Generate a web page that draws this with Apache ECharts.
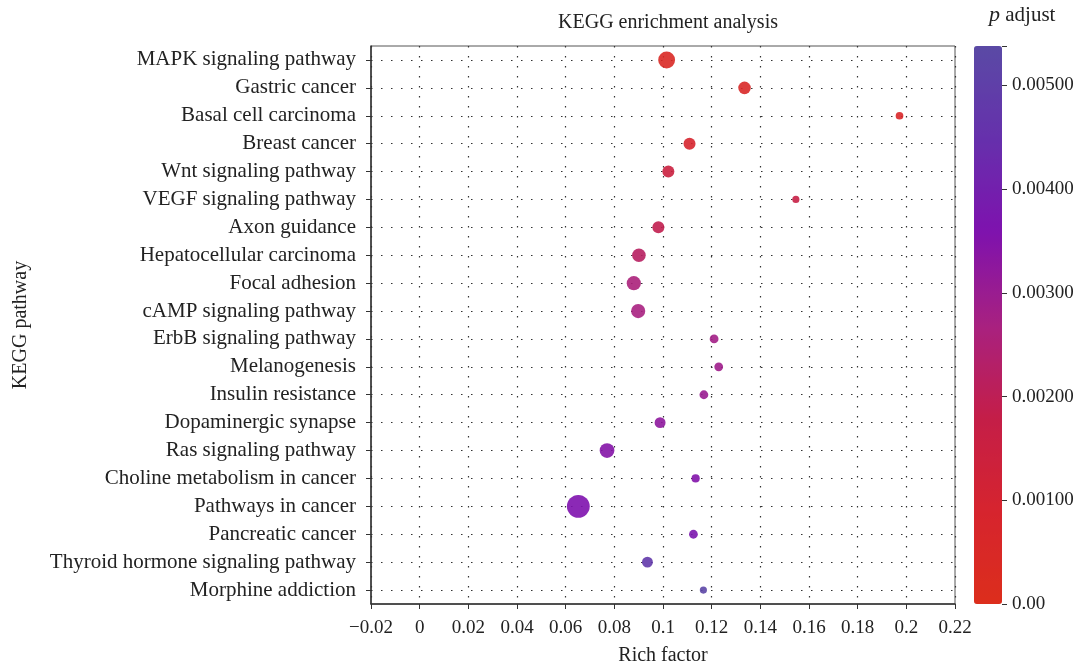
<!DOCTYPE html>
<html>
<head>
<meta charset="utf-8">
<script src="https://cdn.jsdelivr.net/npm/echarts@6/dist/echarts.min.js"></script>
<style>
  html, body { margin: 0; padding: 0; background: #fff; }
  #chart { width: 1083px; height: 665px; }
</style>
</head>
<body>
<div id="chart"></div>
<script>
const pathways = [
  "MAPK signaling pathway", "Gastric cancer", "Basal cell carcinoma", "Breast cancer",
  "Wnt signaling pathway", "VEGF signaling pathway", "Axon guidance", "Hepatocellular carcinoma",
  "Focal adhesion", "cAMP signaling pathway", "ErbB signaling pathway", "Melanogenesis",
  "Insulin resistance", "Dopaminergic synapse", "Ras signaling pathway",
  "Choline metabolism in cancer", "Pathways in cancer", "Pancreatic cancer",
  "Thyroid hormone signaling pathway", "Morphine addiction"
];
const richFactor = [
  0.1015, 0.1335, 0.1972, 0.1109, 0.1022, 0.1546, 0.0981, 0.0901, 0.0880, 0.0898,
  0.1210, 0.1229, 0.1168, 0.0988, 0.0770, 0.1134, 0.0652, 0.1125, 0.0936, 0.1166
];
const geneCount = [22, 14, 5, 13, 13, 4, 13, 16, 17, 17, 7, 7, 7, 11, 18, 6, 33, 7, 11, 4];
const pAdjust = [
  0.00045, 0.00055, 0.00065, 0.00085, 0.00150, 0.00170, 0.00190, 0.00220, 0.00260, 0.00270,
  0.00280, 0.00290, 0.00300, 0.00325, 0.00345, 0.00350, 0.00360, 0.00370, 0.00480, 0.00525
];
const xTickLabels = ["\u22120.02", "0", "0.02", "0.04", "0.06", "0.08", "0.1", "0.12", "0.14", "0.16", "0.18", "0.2", "0.22"];
const pTickLabels = ["0.00", "0.00100", "0.00200", "0.00300", "0.00400", "0.00500"];
const pMax = 0.00538;

const FONT = "Liberation Serif";
const chart = echarts.init(document.getElementById("chart"));

const points = pathways.map((name, i) => [richFactor[i], name, pAdjust[i], geneCount[i]]);

const dotted = { color: "#333", width: 1.2, type: [1.5, 8.5] };

const option = {
  animation: false,
  title: {
    text: "KEGG enrichment analysis",
    left: 663, top: 8, textAlign: "center",
    textStyle: { fontFamily: FONT, fontSize: 20, fontWeight: "normal", color: "#222" }
  },
  graphic: [{
    type: "text", left: 989, top: 4,
    style: {
      text: "{i|p} adjust",
      rich: { i: { fontStyle: "italic", fontFamily: FONT, fontSize: 22, fill: "#222" } },
      font: "21px " + FONT, fill: "#222"
    }
  }],
  grid: [
    { left: 371, top: 46, right: 128, bottom: 61, show: true, borderColor: "#555", borderWidth: 1, outerBoundsMode: "none" },
    { left: 974, top: 46, width: 28, height: 558, outerBoundsMode: "none" }
  ],
  xAxis: [
    {
      gridIndex: 0, type: "value", min: -0.02, max: 0.22, interval: 0.02,
      name: "Rich factor", nameLocation: "middle", nameGap: 42,
      nameTextStyle: { fontFamily: FONT, fontSize: 20, color: "#222" },
      axisLine: { show: true, onZero: false, lineStyle: { color: "#333", width: 1.5 } },
      axisTick: { show: true, length: 5, lineStyle: { color: "#333" } },
      axisLabel: {
        fontFamily: FONT, fontSize: 19, color: "#222", margin: 15,
        formatter: (v, i) => xTickLabels[i] || ""
      },
      splitLine: { show: true, lineStyle: dotted }
    },
    { gridIndex: 1, type: "value", show: false }
  ],
  yAxis: [
    {
      gridIndex: 0, type: "category", data: pathways, inverse: true,
      name: "KEGG pathway", nameLocation: "middle", nameGap: 340, nameRotate: 90,
      nameTextStyle: { fontFamily: FONT, fontSize: 20, color: "#222" },
      axisLine: { show: true, onZero: false, lineStyle: { color: "#333", width: 1.5 } },
      axisTick: { show: true, length: 5, alignWithLabel: true, lineStyle: { color: "#333" } },
      axisLabel: { fontFamily: FONT, fontSize: 21, color: "#222", margin: 15 },
      splitLine: { show: true, alignWithLabel: true, lineStyle: dotted }
    },
    {
      gridIndex: 1, type: "value", min: 0, max: pMax, interval: 0.001, position: "right",
      axisLine: { show: false, onZero: false },
      axisTick: { show: true, length: 5, lineStyle: { color: "#333" } },
      axisLabel: {
        fontFamily: FONT, fontSize: 19, color: "#222", margin: 10,
        formatter: (v, i) => pTickLabels[i] || ""
      },
      splitLine: { show: false }
    }
  ],
  visualMap: [{
    type: "continuous", seriesIndex: 0, dimension: 2,
    min: 0, max: pMax, calculable: false, realtime: false,
    left: 974, top: 46, itemWidth: 28, itemHeight: 558, padding: 0,
    text: null, showLabel: false,
    inRange: { color: ["#dc2e1c", "#d6242e", "#c41e48", "#a82180", "#7e12ae", "#6630ac", "#5a4aa5"] }
  }],
  series: [
    {
      type: "scatter", xAxisIndex: 0, yAxisIndex: 0,
      data: points,
      symbolSize: (v) => 5 + v[3] * 0.54,
      itemStyle: { opacity: 0.9 }
    },
    { type: "scatter", xAxisIndex: 1, yAxisIndex: 1, data: [], silent: true }
  ]
};

chart.setOption(option);
</script>
</body>
</html>
